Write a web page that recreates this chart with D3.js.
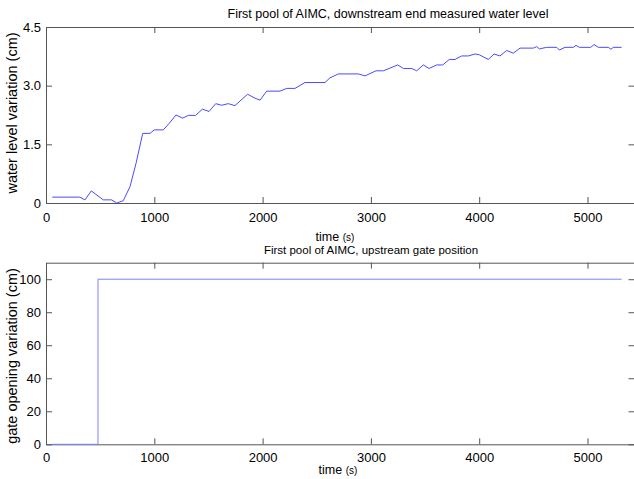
<!DOCTYPE html>
<html>
<head>
<meta charset="utf-8">
<script src="https://cdn.jsdelivr.net/npm/d3@7"></script>
<style>
  body { margin: 0; background: #fff; }
  svg { display: block; }
  text { font-family: "Liberation Sans", Arial, sans-serif; fill: #000; }
</style>
</head>
<body>
<div id="chart"></div>
<script>
// water level at downstream end (cm) vs time (s)
var levelTime = [58, 311, 360, 418, 529, 606, 653, 714, 776, 831,
    893, 960, 1000, 1083, 1139, 1200, 1262, 1314, 1382, 1444,
    1505, 1567, 1622, 1683, 1745, 1800, 1862, 1930, 1976, 2038,
    2161, 2222, 2299, 2391, 2576, 2622, 2699, 2884, 2946, 3047,
    3115, 3247, 3300, 3377, 3423, 3484, 3537, 3607, 3663, 3724,
    3777, 3838, 3900, 3961, 4001, 4084, 4137, 4192, 4254, 4315,
    4377, 4500, 4531, 4555, 4623, 4716, 4740, 4792, 4869, 4894,
    4925, 5030, 5060, 5100, 5192, 5217, 5238, 5315]
var levelValue = [0.15, 0.15, 0.08, 0.31, 0.08, 0.08, 0.0, 0.06, 0.42, 1.01,
    1.78, 1.78, 1.87, 1.87, 2.04, 2.25, 2.17, 2.24, 2.24, 2.40,
    2.34, 2.54, 2.50, 2.54, 2.49, 2.63, 2.78, 2.68, 2.63, 2.86,
    2.86, 2.93, 2.93, 3.08, 3.08, 3.20, 3.30, 3.30, 3.25, 3.38,
    3.38, 3.53, 3.44, 3.44, 3.38, 3.53, 3.44, 3.53, 3.53, 3.67,
    3.67, 3.76, 3.76, 3.81, 3.79, 3.67, 3.81, 3.76, 3.90, 3.83,
    3.96, 3.96, 4.00, 3.94, 3.98, 3.98, 3.91, 3.98, 3.98, 4.03,
    3.98, 3.98, 4.05, 3.98, 3.98, 3.93, 3.98, 3.98]

// upstream gate opening (cm) vs time (s)
var gateTime = [50, 480, 480, 5315]
var gateValue = [0, 0, 100, 100]

var timeTicks = [0, 1000, 2000, 3000, 4000, 5000]
var levelTicks = [0, 1.5, 3.0, 4.5]
var gateTicks = [0, 20, 40, 60, 80, 100]

var W = 634, H = 479
var left = 46, right = 634.5
var xMax = 5434

var svg = d3.select("#chart").append("svg")
    .attr("width", W)
    .attr("height", H)

function panel(cfg) {
    var x = d3.scaleLinear().domain([0, xMax]).range([left, right])
    var y = d3.scaleLinear().domain(cfg.ydom).range([cfg.bottom, cfg.top])
    var g = svg.append("g")

    function styleAxis(sel, showLabels) {
        sel.select(".domain").attr("stroke", "#555")
        sel.selectAll(".tick line").attr("stroke", "#555")
        sel.selectAll(".tick text")
            .style("font-size", "13px")
            .style("font-family", "'Liberation Sans', Arial, sans-serif")
            .attr("fill", "#000")
        if (!showLabels) sel.selectAll(".tick text").remove()
    }

    g.append("g")
        .attr("transform", "translate(0," + cfg.bottom + ")")
        .call(d3.axisBottom(x).tickValues(timeTicks).tickFormat(d3.format("d"))
            .tickSize(-6).tickSizeOuter(0).tickPadding(cfg.xpad))
        .call(s => styleAxis(s, true))
    g.append("g")
        .attr("transform", "translate(0," + cfg.top + ")")
        .call(d3.axisTop(x).tickValues(timeTicks).tickSize(-6).tickSizeOuter(0))
        .call(s => styleAxis(s, false))
    g.append("g")
        .attr("transform", "translate(" + left + ",0)")
        .call(d3.axisLeft(y).tickValues(cfg.yticks).tickFormat(cfg.yfmt).tickSize(-6).tickSizeOuter(0).tickPadding(5))
        .call(s => styleAxis(s, true))
    g.append("g")
        .attr("transform", "translate(" + right + ",0)")
        .call(d3.axisRight(y).tickValues(cfg.yticks).tickSize(-6).tickSizeOuter(0))
        .call(s => styleAxis(s, false))

    var pts = cfg.t.map((t, i) => [t, cfg.v[i]])
    g.append("path")
        .datum(pts)
        .attr("fill", "none")
        .attr("stroke", cfg.color)
        .attr("stroke-width", 1)
        .attr("d", d3.line().x(d => x(d[0])).y(d => y(d[1])))

    g.append("text")
        .attr("x", cfg.titleX)
        .attr("y", cfg.top - 9)
        .attr("text-anchor", "middle")
        .style("font-size", cfg.titleSize)
        .text(cfg.title)

    var xl = g.append("text")
        .attr("x", cfg.xlabelX)
        .attr("y", cfg.bottom + cfg.xlabelDy)
        .attr("text-anchor", "middle")
    xl.append("tspan").style("font-size", "12.5px").text("time ")
    xl.append("tspan").style("font-size", "10px").text("(s)")

    g.append("text")
        .attr("transform", "translate(" + 17 + "," + cfg.ylabelY + ") rotate(-90)")
        .attr("text-anchor", "middle")
        .style("font-size", "14.5px")
        .text(cfg.ylabel)
}

panel({
    top: 27, bottom: 203,
    ydom: [0, 4.5], yticks: levelTicks,
    yfmt: d => d === 0 ? "0" : d3.format(".1f")(d),
    t: levelTime, v: levelValue, color: "#4a4aff",
    title: "First pool of AIMC, downstream end measured water level",
    titleX: 388, titleSize: "12.5px",
    xpad: 10, xlabelX: 335, xlabelDy: 38, ylabelY: 113,
    ylabel: "water level variation (cm)"
})

panel({
    top: 262.7, bottom: 444.3,
    ydom: [0, 110], yticks: gateTicks,
    yfmt: d3.format("d"),
    t: gateTime, v: gateValue, color: "#8080ff",
    title: "First pool of AIMC, upstream gate position",
    titleX: 371, titleSize: "11.5px",
    xpad: 8, xlabelX: 338, xlabelDy: 30, ylabelY: 356,
    ylabel: "gate opening variation (cm)"
})
</script>
</body>
</html>
